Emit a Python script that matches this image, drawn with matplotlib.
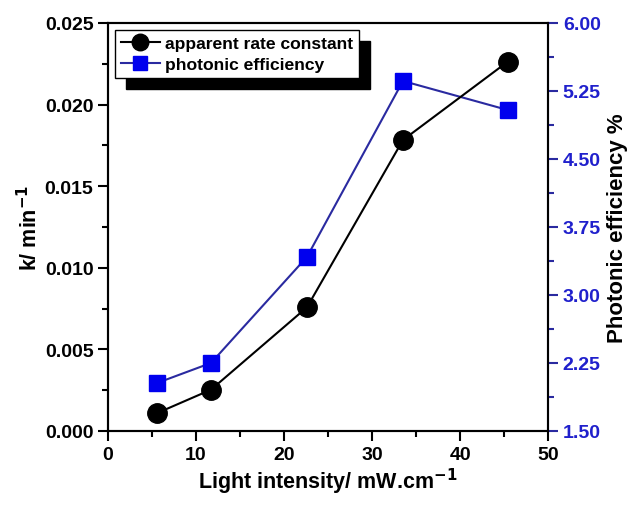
import matplotlib
matplotlib.use("Agg")
import matplotlib.pyplot as plt
from matplotlib.ticker import MultipleLocator, FormatStrFormatter

intensity = [5.6, 11.7, 22.6, 33.5, 45.4]
rate_k = [0.0011, 0.00253, 0.00758, 0.01783, 0.02263]
photonic_eff = [2.03, 2.25, 3.42, 5.36, 5.04]

plt.rcParams['font.family'] = ['Liberation Sans', 'DejaVu Sans']
plt.rcParams['font.weight'] = 'bold'

blue = '#0000ee'
line_blue = '#2a2aa0'

fig = plt.figure(figsize=(6.39, 5.10), dpi=100)
ax = fig.add_axes([0.169, 0.153, 0.689, 0.80])
ax2 = ax.twinx()

l1, = ax.plot(intensity, rate_k, color='black', lw=1.5, marker='o', ms=14,
              mfc='black', mec='black', label='apparent rate constant')
l2, = ax2.plot(intensity, photonic_eff, color=line_blue, lw=1.5, marker='s', ms=12,
               mfc=blue, mec=blue, label='photonic efficiency')

ax.set_xlim(0, 50)
ax.set_ylim(0, 0.025)
ax2.set_ylim(1.5, 6.0)

ax.xaxis.set_major_locator(MultipleLocator(10))
ax.xaxis.set_minor_locator(MultipleLocator(5))
ax.yaxis.set_major_locator(MultipleLocator(0.005))
ax.yaxis.set_minor_locator(MultipleLocator(0.0025))
ax.yaxis.set_major_formatter(FormatStrFormatter('%.3f'))
ax2.yaxis.set_major_locator(MultipleLocator(0.75))
ax2.yaxis.set_minor_locator(MultipleLocator(0.375))
ax2.yaxis.set_major_formatter(FormatStrFormatter('%.2f'))

for a in (ax, ax2):
    for s in a.spines.values():
        s.set_linewidth(1.5)
ax.tick_params(axis='both', which='major', direction='out', length=7, width=1.5,
               labelsize=14)
ax.tick_params(axis='both', which='minor', direction='out', length=4, width=1.5)
ax2.tick_params(axis='y', which='major', direction='out', length=7, width=1.5,
                labelsize=14, colors=line_blue, labelcolor='#2020cc')
ax2.tick_params(axis='y', which='minor', direction='out', length=4, width=1.5,
                colors=line_blue)
ax2.spines['right'].set_color(line_blue)
for lab in ax.get_xticklabels() + ax.get_yticklabels() + ax2.get_yticklabels():
    lab.set_fontweight('bold')

ax.set_xlabel('Light intensity/ mW.cm$^{\\mathbf{-1}}$', fontsize=15.5,
              fontweight='bold', labelpad=2)
ax.set_ylabel('k/ min$^{\\mathbf{-1}}$', fontsize=15.5, fontweight='bold', labelpad=2)
ax2.set_ylabel('Photonic efficiency %', fontsize=16, fontweight='bold', labelpad=4)

leg = ax.legend(handles=[l1, l2], loc='upper left', fontsize=12.6, frameon=True,
                fancybox=False, edgecolor='black', handlelength=2.2,
                borderaxespad=0.4, handletextpad=0.3, labelspacing=0.3,
                borderpad=0.35, markerscale=0.85,
                shadow={'ox': 8, 'oy': -8, 'color': 'black', 'alpha': 1})
leg.get_frame().set_linewidth(1.0)
for t in leg.get_texts():
    t.set_fontweight('bold')
ax.set_zorder(ax2.get_zorder() + 1)
ax.patch.set_visible(False)
fig.savefig('out.png', dpi=100)
